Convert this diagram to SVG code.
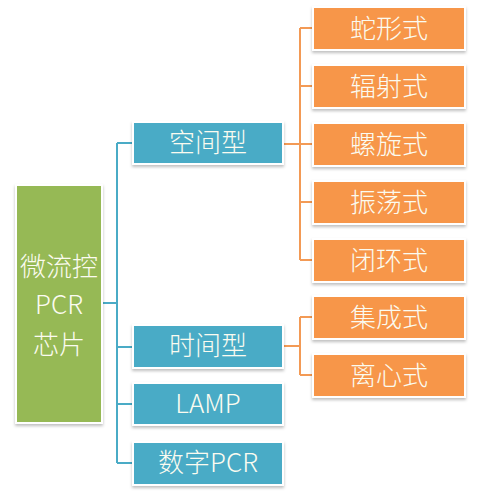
<svg xmlns="http://www.w3.org/2000/svg" width="489" height="494" viewBox="0 0 489 494">
<defs>
<filter id="sh" x="-10%" y="-20%" width="120%" height="150%">
<feDropShadow dx="0" dy="2" stdDeviation="1.5" flood-color="#000" flood-opacity="0.25"/>
</filter>
</defs>
<style>
.g{fill:#96b954;stroke:#fff;stroke-width:2;filter:url(#sh)}
.b{fill:#4aabc6;stroke:#fff;stroke-width:2;filter:url(#sh)}
.o{fill:#f7964a;stroke:#fff;stroke-width:2;filter:url(#sh)}
text{font-family:"Noto Sans CJK SC","Noto Sans",sans-serif;font-size:26px;font-weight:300;fill:#fbfbf0;text-anchor:middle}
.lb{fill:none;stroke:#4aabc6;stroke-width:2}
.lo{fill:none;stroke:#f39a55;stroke-width:2}
</style>
<rect width="489" height="494" fill="#fff"/>
<g id="connectors">
<path class="lb" d="M102 303H117M117 143V463M117 143H133M117 347H133M117 404H133M117 463H133"/>
<path class="lo" d="M283 144H300M300 28V260M300 28H313M300 86H313M300 144H313M300 202H313M300 260H313"/>
<path class="lo" d="M283 346H300M300 317V375M300 317H313M300 375H313"/>
</g>
<g id="root"><rect class="g" x="16" y="185" width="86" height="238"/>
<text x="59" y="276">微流控</text><text x="59" y="314">PCR</text><text x="59" y="354">芯片</text></g>
<g id="kongjian"><rect class="b" x="133" y="122" width="150" height="42"/><text x="208" y="152">空间型</text></g>
<g id="shijian"><rect class="b" x="133" y="325" width="150" height="43"/><text x="208" y="355">时间型</text></g>
<g id="lamp"><rect class="b" x="133" y="383" width="150" height="42"/><text x="208" y="413">LAMP</text></g>
<g id="shuzi"><rect class="b" x="133" y="442" width="150" height="43"/><text x="208" y="472">数字PCR</text></g>
<g id="shexing"><rect class="o" x="313" y="7" width="152" height="43"/><text x="389" y="38">蛇形式</text></g>
<g id="fushe"><rect class="o" x="313" y="65" width="152" height="43"/><text x="389" y="96">辐射式</text></g>
<g id="luoxuan"><rect class="o" x="313" y="123" width="152" height="43"/><text x="389" y="154">螺旋式</text></g>
<g id="zhendang"><rect class="o" x="313" y="181" width="152" height="43"/><text x="389" y="212">振荡式</text></g>
<g id="bihuan"><rect class="o" x="313" y="239" width="152" height="43"/><text x="389" y="270">闭环式</text></g>
<g id="jicheng"><rect class="o" x="313" y="296" width="152" height="43"/><text x="389" y="327">集成式</text></g>
<g id="lixin"><rect class="o" x="313" y="354" width="152" height="43"/><text x="389" y="385">离心式</text></g>
</svg>
